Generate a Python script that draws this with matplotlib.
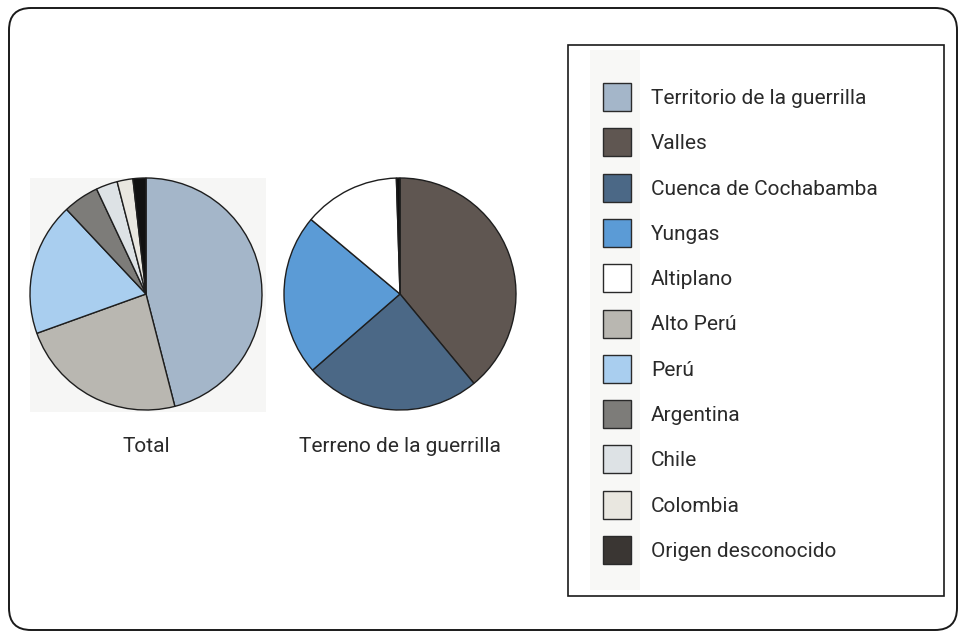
import matplotlib
matplotlib.use("Agg")
import matplotlib.pyplot as plt
from matplotlib.patches import FancyBboxPatch, Rectangle

# legend categories and colours
categories = ["Territorio de la guerrilla", "Valles", "Cuenca de Cochabamba", "Yungas",
              "Altiplano", "Alto Perú", "Perú", "Argentina", "Chile", "Colombia",
              "Origen desconocido"]
colors = ["#a4b6c9", "#5f5651", "#4b6886", "#5b9bd6", "#ffffff", "#b9b7b1",
          "#a9ceef", "#7d7c79", "#dde2e5", "#e9e7e0", "#3a3633"]
cmap = dict(zip(categories, colors))

# pie 1: Total
total_labels = ["Territorio de la guerrilla", "Alto Perú", "Perú", "Argentina",
                "Chile", "Colombia", "Origen desconocido"]
total_values = [46.0, 23.5, 18.5, 5.0, 3.0, 2.2, 1.8]

# pie 2: Terreno de la guerrilla
terreno_labels = ["Valles", "Cuenca de Cochabamba", "Yungas", "Altiplano", "Origen desconocido"]
terreno_values = [39.0, 24.6, 22.5, 13.4, 0.5]

W, H = 966, 638
plt.rcParams["font.family"] = ["Liberation Sans Narrow", "Roboto", "DejaVu Sans"]

fig = plt.figure(figsize=(W / 100, H / 100), dpi=100)
ax = fig.add_axes([0, 0, 1, 1])

def py(y):
    # image y (top origin) -> data y
    return H - y

# outer rounded frame
ax.add_patch(FancyBboxPatch((9, py(630)), W - 18, 622, boxstyle="round,pad=0,rounding_size=22",
                            fill=False, edgecolor="#1a1a1a", linewidth=1.4))

# faint scan background behind the first pie
ax.add_patch(Rectangle((30, py(412)), 236, 234, facecolor="#f6f6f5", edgecolor="none"))

wedge_kw = dict(edgecolor="#1e1e1e", linewidth=1.0)
pie_colors = [cmap[c] for c in total_labels]
pie_colors[-1] = "#111111"
ax.pie(total_values, colors=pie_colors, startangle=90, counterclock=False,
       center=(146, py(294)), radius=116, wedgeprops=wedge_kw, frame=True)

pie_colors2 = [cmap[c] for c in terreno_labels]
pie_colors2[-1] = "#111111"
ax.pie(terreno_values, colors=pie_colors2, startangle=90, counterclock=False,
       center=(400, py(294)), radius=116, wedgeprops=wedge_kw, frame=True)

ax.set_xlim(0, W)
ax.set_ylim(0, H)
ax.set_aspect("equal")
ax.axis("off")

ax.text(146, py(446), "Total", ha="center", va="center", fontsize=15, color="#2a2a2a")
ax.text(400, py(446), "Terreno de la guerrilla", ha="center", va="center", fontsize=15,
        color="#2a2a2a")

# legend box
ax.add_patch(Rectangle((590, py(590)), 50, 540, facecolor="#f8f8f6", edgecolor="none"))
ax.add_patch(Rectangle((568, py(596)), 376, 551, fill=False,
                       edgecolor="#1a1a1a", linewidth=1.2))

y0, step = 97, 45.3
for i, (name, col) in enumerate(zip(categories, colors)):
    yc = y0 + i * step
    ax.add_patch(Rectangle((603, py(yc + 14)), 28, 28, facecolor=col,
                           edgecolor="#2a2a2a", linewidth=1.0))
    ax.text(651, py(yc + 1.5), name, ha="left", va="center", fontsize=15, color="#2a2a2a")

fig.savefig("out.png", dpi=100)
